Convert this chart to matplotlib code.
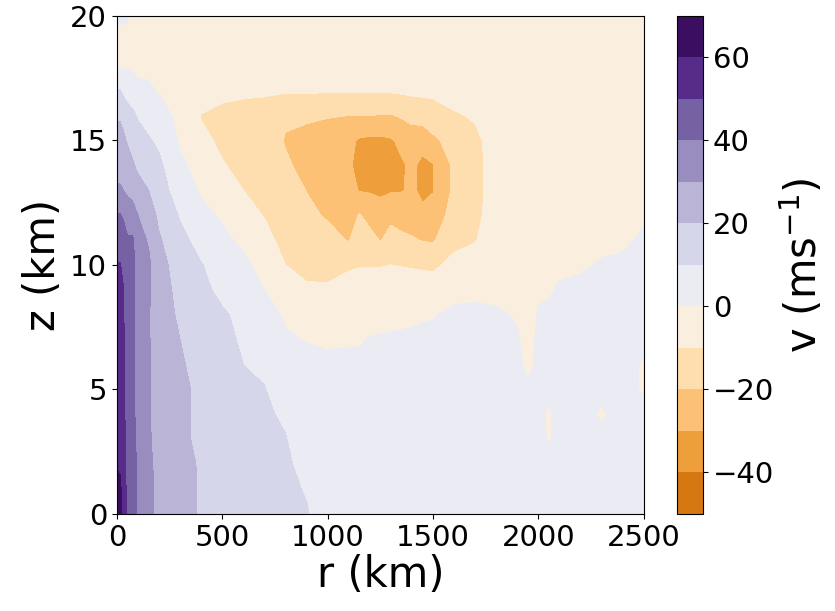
import numpy as np
import matplotlib
matplotlib.use("Agg")
import matplotlib.pyplot as plt

# radial and vertical grid of the read-off field
r_km = [0, 15, 30, 50, 75, 100, 150, 200, 300, 400, 500, 600, 700, 800, 900,
        1000, 1100, 1150, 1200, 1250, 1300, 1350, 1400, 1450, 1500, 1600, 1700,
        1800, 1900, 1950, 2000, 2050, 2100, 2200, 2300, 2400, 2500]
z_km = list(range(0, 21))

# tangential wind v (m/s), one profile (z = 0..20 km) per radius
v_r0 = [64, 63, 59, 57, 56, 55, 54, 53, 52.5, 52, 50.5, 45, 40.5, 31, 27, 23, 19, 10.5, -1, -1, 0.5]
v_r15 = [63, 62, 58.5, 57, 56, 55, 54, 53, 52.5, 52, 50.5, 45, 40.5, 31, 27, 23, 19, 10.5, -1, -1, 0.5]
v_r30 = [56, 56, 55, 54, 53, 53, 52, 52, 51, 50.5, 48, 44, 39, 30, 26, 22, 17, 8, -1, -1, 0.5]
v_r50 = [47, 47, 47, 46, 45.5, 45, 45, 44.5, 44, 43.5, 43, 41, 36, 28, 24, 19, 14, 6, -1, -1.5, 0.5]
v_r75 = [43, 43, 43, 42, 41.5, 41, 41, 41, 41, 41.5, 42, 41, 35, 26, 21, 17, 12, 4, -1.5, -2, -1]
v_r100 = [39, 39, 39, 38, 38, 38, 37, 37, 37, 37, 37, 34, 30, 24, 18, 14, 9, 2, -2, -2, -2]
v_r150 = [32, 32, 32, 31, 31, 31, 31, 31, 31, 31.5, 32, 29, 25, 20, 15, 11, 6, 1, -1.5, -2, -2]
v_r200 = [28, 28, 27, 27, 26, 26, 25, 24, 23, 23, 23, 21, 18, 14.5, 12, 8, 3, -0.5, -2, -2, -2]
v_r300 = [24, 24, 23, 22, 22, 22, 21, 20, 19, 18, 16, 13, 9, 5, 1.5, -1, -2, -2.5, -2.5, -2.5, -2.5]
v_r400 = [19, 19, 19, 18, 18, 18, 17, 15, 14, 12, 10.5, 6, 2, -1, -3, -8, -10.5, -4, -3, -3, -3]
v_r500 = [17, 16, 15, 15, 14, 14, 13, 12, 11, 8, 5, 2, -1, -4, -9.5, -11.5, -12, -8, -3, -3, -3]
v_r600 = [15, 14, 14, 13, 12, 11, 10, 9, 8, 5, 2, -2, -6, -10, -12, -13, -14, -8, -3, -3, -3]
v_r700 = [13, 13, 12, 11.5, 11, 10.2, 9, 7, 3, 0, -3, -7, -10.5, -13, -15, -16, -16, -8, -3, -3, -3]
v_r800 = [12, 11.5, 11, 10.3, 9, 7, 4, 1, -1, -5, -10, -13, -15, -17, -19, -20.5, -19, -9, -3, -3, -3]
v_r900 = [10.5, 9.5, 8, 6, 5, 4, 3, -0.5, -3, -9, -12, -15, -18, -20.2, -22, -22, -19, -9, -3, -3, -3]
v_r1000 = [6, 5.5, 5, 4, 3, 3, 1.5, -1, -4, -9, -12.5, -17, -21, -23, -24, -24, -19.5, -9, -3, -3, -3]
v_r1100 = [5, 5, 4, 4, 3, 2, 1, -0.5, -3, -7, -11, -20.5, -24, -27, -29, -28, -20, -9, -3, -3, -3]
v_r1150 = [5, 5, 4, 4, 3, 2, 1, -0.5, -2.5, -6.5, -10.5, -16, -19.5, -30.5, -32, -31, -20, -9, -3, -3, -3]
v_r1200 = [4, 4, 4, 3, 3, 2, 1.5, 0.3, -2, -6, -10.5, -17, -23, -31, -34, -32, -19.8, -9, -3, -3, -3]
v_r1250 = [4, 4, 3.5, 3, 3, 2, 1.5, 0.4, -1.5, -5.5, -10.5, -20.5, -25, -32, -35, -32, -20.5, -9, -3, -3, -3]
v_r1300 = [4, 4, 3, 3, 3, 2, 1.5, 0.5, -1, -5, -10, -17, -22, -31, -33, -31, -20.5, -9, -3, -3, -3]
v_r1350 = [4, 4, 3, 3, 3, 2, 1.5, 0.5, -0.8, -4.5, -10.5, -18, -24, -30.5, -31, -28, -19, -8.5, -3, -3, -3]
v_r1400 = [3, 3, 3, 3, 3, 2, 1.5, 0.5, -0.5, -4.5, -11, -19, -25, -28.5, -28.5, -25, -17, -8, -3, -3, -3]
v_r1450 = [3, 3, 3, 3, 2.5, 2, 1.2, 0.8, -0.4, -4.5, -11.5, -20.5, -28, -32, -32, -27, -15.5, -8, -3, -3, -3]
v_r1500 = [3, 3, 3, 3, 2, 2, 1, 1, -0.3, -5, -12, -21, -26, -30.5, -30.5, -22, -14, -8, -3, -3, -3]
v_r1600 = [3, 3, 3, 2, 2, 1.5, 1, 1, 1, -1.5, -7, -13, -16, -18, -18, -16, -11, -6, -3, -3, -3]
v_r1700 = [3, 3, 2, 2, 2, 1, 1, 1, 1, -1, -6, -10.5, -12, -12.5, -12.5, -12, -9, -5, -3, -3, -3]
v_r1800 = [2, 2, 2, 1.5, 1, 1, 1, 0.5, 0.5, -1, -3, -5, -6, -6.5, -6.5, -6, -5, -4, -3, -3, -3]
v_r1900 = [2, 2, 1.5, 1, 1, 1, 0.5, 0.3, -0.3, -1.5, -2.5, -3, -3.5, -4, -4, -4, -4, -3.5, -3, -3, -3]
v_r1950 = [2, 2, 1.5, 1, 0.5, 0.3, -0.5, -1, -1.5, -2, -2.5, -3, -3, -3.5, -3.5, -3.5, -3.5, -3.5, -3, -3, -3]
v_r2000 = [2, 2, 1.5, 1, 0.5, 0.5, 0.5, 0.5, 0.3, -0.5, -1.5, -2.5, -3, -3, -3, -3.5, -3.5, -3.5, -3, -3, -3]
v_r2050 = [2, 2, 1, -0.3, -0.3, 0.5, 1, 1, 0.5, -0.3, -1, -2, -2.5, -3, -3, -3, -3, -3, -3, -3, -3]
v_r2100 = [2, 2, 1.5, 1, 1, 1, 1, 1, 0.8, 0.3, -0.5, -1.5, -2, -2.5, -3, -3, -3, -3, -3, -3, -3]
v_r2200 = [2, 2, 1.5, 1, 1, 1, 1, 1, 1, 0.5, -0.3, -1, -2, -2.5, -3, -3, -3, -3, -3, -3, -3]
v_r2300 = [2, 2, 1.5, 0.5, -0.3, 0.5, 1, 1, 1, 0.8, 0.2, -0.5, -1, -2, -2.5, -3, -3, -3, -3, -3, -3]
v_r2400 = [2, 2, 1.5, 1, 1, 1, 1, 1, 1, 1, 0.3, -0.3, -0.8, -1.5, -2, -2.5, -3, -3, -3, -3, -3]
v_r2500 = [2, 2, 1.5, 1, 1, -0.3, -0.3, 0.5, 1, 1, 0.5, 0.3, -0.3, -0.8, -1.5, -2, -2.5, -3, -3, -3, -3]

profiles = [v_r0, v_r15, v_r30, v_r50, v_r75, v_r100, v_r150, v_r200, v_r300,
            v_r400, v_r500, v_r600, v_r700, v_r800, v_r900, v_r1000, v_r1100,
            v_r1150, v_r1200, v_r1250, v_r1300, v_r1350, v_r1400, v_r1450,
            v_r1500, v_r1600, v_r1700, v_r1800, v_r1900, v_r1950, v_r2000,
            v_r2050, v_r2100, v_r2200, v_r2300, v_r2400, v_r2500]
v = np.array(profiles).T  # shape (z, r)

levels = np.arange(-50, 71, 10)
cbar_ticks = [-40, -20, 0, 20, 40, 60]

fig = plt.figure(figsize=(8.35, 6.11), dpi=100)
ax = fig.add_axes([0.140, 0.159, 0.631, 0.815])
cax = fig.add_axes([0.811, 0.159, 0.031, 0.815])

cs = ax.contourf(r_km, z_km, v, levels=levels, cmap='PuOr', vmin=-70, vmax=70)
ax.set_xlim(0, 2500)
ax.set_ylim(0, 20)
ax.set_xticks([0, 500, 1000, 1500, 2000, 2500])
ax.set_yticks([0, 5, 10, 15, 20])
ax.tick_params(labelsize=21)
ax.set_xlabel('r (km)', fontsize=30, labelpad=2)
ax.set_ylabel('z (km)', fontsize=30)

cb = fig.colorbar(cs, cax=cax, ticks=cbar_ticks)
cb.ax.tick_params(labelsize=21)
cb.set_label('v (ms$^{-1}$)', fontsize=30)

fig.savefig('out.png', dpi=100)
